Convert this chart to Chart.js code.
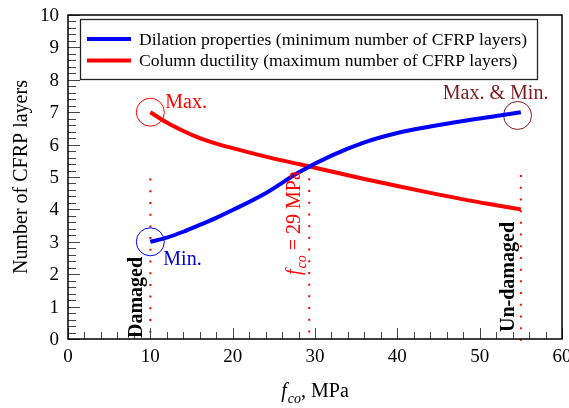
<!DOCTYPE html>
<html>
<head>
<meta charset="utf-8">
<script src="https://cdn.jsdelivr.net/npm/chart.js@4/dist/chart.umd.min.js"></script>
<style>
  html, body { margin: 0; padding: 0; background: #fff; }
  #wrap { width: 569px; height: 408px; }
</style>
</head>
<body>
<div id="wrap"><canvas id="chart1"></canvas></div>
<script>
// f_co (MPa) sampled along the curves
const fco = [10, 12, 14, 16, 18, 20, 24, 28, 32, 36, 40, 44, 48, 52, 55];
// Dilation properties (minimum number of CFRP layers)
const dilation = [3.0, 3.13, 3.31, 3.52, 3.74, 3.98, 4.5, 5.14, 5.66, 6.07, 6.36, 6.56, 6.73, 6.88, 7.0];
// Column ductility (maximum number of CFRP layers)
const ductility = [7.0, 6.68, 6.42, 6.2, 6.03, 5.89, 5.63, 5.4, 5.17, 4.94, 4.72, 4.51, 4.31, 4.13, 4.0];

const seriesNames = [
  "Dilation properties (minimum number of CFRP layers)",
  "Column ductility (maximum number of CFRP layers)",
];

// tick labels
const xTickValues = [0, 10, 20, 30, 40, 50, 60];
const yTickValues = [0, 1, 2, 3, 4, 5, 6, 7, 8, 9, 10];

// dotted markers: damaged / f_co = 29 MPa / un-damaged
const markerX = [10, 29.3, 55];
const markerTop = [4.95, 5.32, 5.06];

const SERIF = '"Liberation Serif", "Times New Roman", serif';
const MAROON = "#7b1c1c";

const toXY = (xs, ys) => xs.map((v, i) => ({ x: v, y: ys[i] }));

function drawLine(ctx, x1, y1, x2, y2) {
  ctx.beginPath();
  ctx.moveTo(x1, y1);
  ctx.lineTo(x2, y2);
  ctx.stroke();
}

/**
 * Draw "f_co" + rest with italic f and subscript co, starting at (x, y) baseline
 */
function drawFco(ctx, x, y, size, rest) {
  ctx.textBaseline = "alphabetic";
  ctx.textAlign = "left";
  ctx.font = `italic ${size}px ${SERIF}`;
  ctx.fillText("f", x, y);
  x += ctx.measureText("f").width + 1;
  ctx.font = `italic ${Math.round(size * 0.7)}px ${SERIF}`;
  ctx.fillText("co", x, y + size * 0.3);
  x += ctx.measureText("co").width;
  ctx.font = `${size}px ${SERIF}`;
  ctx.fillText(rest, x, y);
}

function fcoWidth(ctx, size, rest) {
  ctx.font = `italic ${size}px ${SERIF}`;
  let w = ctx.measureText("f").width + 1;
  ctx.font = `italic ${Math.round(size * 0.7)}px ${SERIF}`;
  w += ctx.measureText("co").width;
  ctx.font = `${size}px ${SERIF}`;
  return w + ctx.measureText(rest).width;
}

const framePlugin = {
  id: "frame",
  afterDraw(chart) {
    const { ctx, chartArea: a, scales } = chart;
    const x = scales.x, y = scales.y;
    ctx.save();

    // inward ticks
    ctx.strokeStyle = "#444";
    ctx.lineWidth = 1;
    for (let v = 0; v <= 60.001; v += 2) {
      const px = Math.round(x.getPixelForValue(v)) + 0.5;
      const len = Math.abs(v % 10) < 1e-6 ? 11 : 7;
      drawLine(ctx, px, a.bottom, px, a.bottom - len);
    }
    for (let i = 0; i <= 50; i++) {
      const v = i * 0.2;
      const py = Math.round(y.getPixelForValue(v)) + 0.5;
      const len = i % 5 === 0 ? 12 : 8;
      drawLine(ctx, a.left, py, a.left + len, py);
    }

    // tick labels (drawn here so they don't push the plot area around)
    ctx.fillStyle = "#000";
    ctx.font = `19px ${SERIF}`;
    ctx.textAlign = "center";
    ctx.textBaseline = "middle";
    xTickValues.forEach((v) => {
      ctx.fillText(String(v), x.getPixelForValue(v), a.bottom + 18);
    });
    ctx.textAlign = "right";
    yTickValues.forEach((v) => {
      ctx.fillText(String(v), a.left - 9, y.getPixelForValue(v) + 1);
    });

    // frame
    ctx.strokeStyle = "#000";
    ctx.lineWidth = 1.5;
    ctx.strokeRect(a.left, a.top, a.right - a.left, a.bottom - a.top);

    // legend box
    const lx = 80.5, ly = 19.5, lw = 457, lh = 60;
    ctx.fillStyle = "#fff";
    ctx.fillRect(lx, ly, lw, lh);
    ctx.strokeStyle = "#222";
    ctx.lineWidth = 1.3;
    ctx.strokeRect(lx, ly, lw, lh);
    const legendColors = ["#0000ff", "#ff0000"];
    ctx.font = `17.6px ${SERIF}`;
    ctx.textBaseline = "middle";
    ctx.textAlign = "left";
    seriesNames.forEach((name, i) => {
      const yy = 39 + i * 21.5;
      ctx.strokeStyle = legendColors[i];
      ctx.lineWidth = 4;
      drawLine(ctx, 87, yy, 131, yy);
      ctx.fillStyle = "#000";
      ctx.fillText(name, 139, yy + 1);
    });

    // annotations
    const px10 = x.getPixelForValue(10), px55 = x.getPixelForValue(55);
    ctx.font = `20px ${SERIF}`;
    ctx.textBaseline = "alphabetic";
    ctx.fillStyle = "#ff0000";
    ctx.fillText("Max.", px10 + 15, y.getPixelForValue(7) - 4);
    ctx.fillStyle = "#0000cc";
    ctx.fillText("Min.", px10 + 13, y.getPixelForValue(3) + 23);
    ctx.fillStyle = MAROON;
    ctx.fillText("Max. & Min.", px55 - 78, y.getPixelForValue(7) - 13);

    // rotated labels
    function rotated(cx, cy, draw) {
      ctx.save();
      ctx.translate(cx, cy);
      ctx.rotate(-Math.PI / 2);
      draw();
      ctx.restore();
    }
    ctx.fillStyle = "#000";
    rotated(px10 - 8, y.getPixelForValue(0) - 1, () => {
      ctx.font = `bold 20px ${SERIF}`;
      ctx.textAlign = "left";
      ctx.fillText("Damaged", 0, 0);
    });
    rotated(px55 - 7, y.getPixelForValue(0) - 7, () => {
      ctx.font = `bold 20px ${SERIF}`;
      ctx.textAlign = "left";
      ctx.fillText("Un-damaged", 0, 0);
    });
    ctx.fillStyle = "#ff0000";
    rotated(x.getPixelForValue(markerX[1]) - 9, y.getPixelForValue(0) - 64, () => {
      drawFco(ctx, 0, 0, 20, " = 29 MPa");
    });

    // axis titles
    ctx.fillStyle = "#000";
    const tw = fcoWidth(ctx, 20, ", MPa");
    drawFco(ctx, (a.left + a.right) / 2 - tw / 2, 397, 20, ", MPa");
    rotated(27, (a.top + a.bottom) / 2, () => {
      ctx.font = `20px ${SERIF}`;
      ctx.textAlign = "center";
      ctx.textBaseline = "alphabetic";
      ctx.fillText("Number of CFRP layers", 0, 0);
    });

    ctx.restore();
  },
};

const datasets = [
  {
    label: seriesNames[0],
    data: toXY(fco, dilation),
    showLine: true,
    borderColor: "#0000ff",
    borderWidth: 4,
    pointRadius: 0,
    cubicInterpolationMode: "monotone",
  },
  {
    label: seriesNames[1],
    data: toXY(fco, ductility),
    showLine: true,
    borderColor: "#ff0000",
    borderWidth: 4,
    pointRadius: 0,
    cubicInterpolationMode: "monotone",
  },
  {
    label: "max",
    data: [{ x: fco[0], y: ductility[0] }],
    pointRadius: 14,
    borderColor: "#ff0000",
    borderWidth: 1,
    backgroundColor: "rgba(0,0,0,0)",
  },
  {
    label: "min",
    data: [{ x: fco[0], y: dilation[0] }],
    pointRadius: 14,
    borderColor: "#0000ff",
    borderWidth: 1,
    backgroundColor: "rgba(0,0,0,0)",
  },
  {
    label: "maxmin",
    data: [{ x: 54.6, y: 6.9 }],
    pointRadius: 14,
    borderColor: MAROON,
    borderWidth: 1,
    backgroundColor: "rgba(0,0,0,0)",
  },
];

markerX.forEach((mx, i) => {
  datasets.push({
    label: "marker" + i,
    data: [{ x: mx, y: markerTop[i] }, { x: mx, y: -0.1 }],
    showLine: true,
    borderColor: "#ff0000",
    borderWidth: 2,
    borderDash: [2, 9.7],
    pointRadius: 0,
    clip: false,
  });
});

new Chart(document.getElementById("chart1"), {
  type: "scatter",
  data: { datasets },
  options: {
    responsive: true,
    maintainAspectRatio: false,
    animation: false,
    layout: { autoPadding: false, padding: { top: 15, right: 7, left: 0, bottom: 0 } },
    plugins: { legend: { display: false }, tooltip: { enabled: false } },
    scales: {
      x: {
        type: "linear",
        min: 0,
        max: 60,
        grid: { display: false },
        border: { display: false },
        ticks: { display: false },
        afterFit: (s) => { s.height = 69; },
      },
      y: {
        type: "linear",
        min: 0,
        max: 10,
        grid: { display: false },
        border: { display: false },
        ticks: { display: false },
        afterFit: (s) => { s.width = 68; },
      },
    },
  },
  plugins: [framePlugin],
});
</script>
</body>
</html>
